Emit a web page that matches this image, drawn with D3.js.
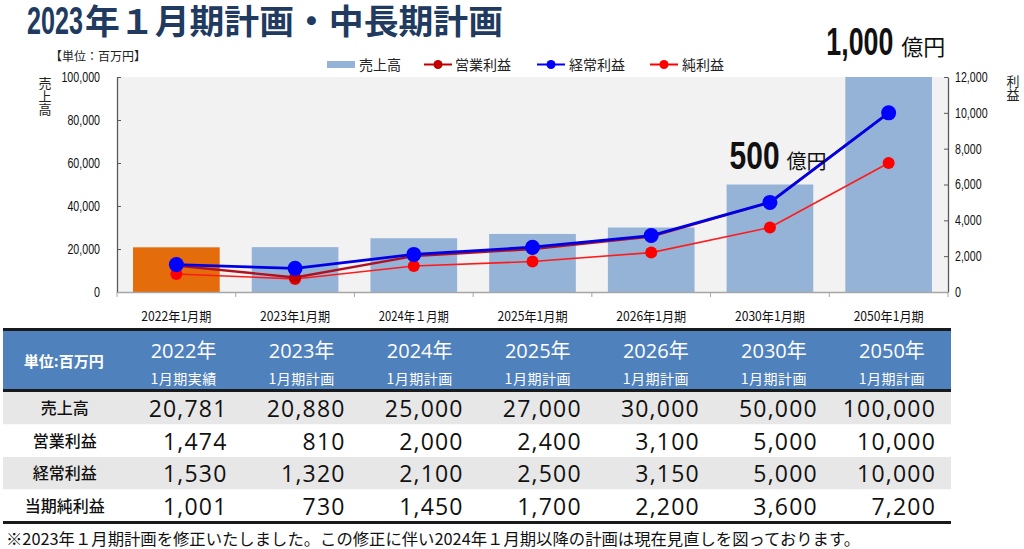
<!DOCTYPE html>
<html><head><meta charset="utf-8">
<script src="https://cdn.jsdelivr.net/npm/d3@7"></script>
<style>body{margin:0;background:#fff}svg{display:block}</style>
</head><body><svg id="c" width="1024" height="549"></svg>
<script>
const categories = ["2022年1月期","2023年1月期","2024年１月期","2025年1月期","2026年1月期","2030年1月期","2050年1月期"];
const sales = [20781, 20880, 25000, 27000, 30000, 50000, 100000];
const opProfit = [1474, 810, 2000, 2400, 3100, 5000, 10000];
const ordProfit = [1530, 1320, 2100, 2500, 3150, 5000, 10000];
const netProfit = [1001, 730, 1450, 1700, 2200, 3600, 7200];
const leftTicks = [0, 20000, 40000, 60000, 80000, 100000];
const rightTicks = [0, 2000, 4000, 6000, 8000, 10000, 12000];
const tableYears = ["2022年","2023年","2024年","2025年","2026年","2030年","2050年"];
const tableSubs = ["1月期実績","1月期計画","1月期計画","1月期計画","1月期計画","1月期計画","1月期計画"];
const rowLabels = ["売上高","営業利益","経常利益","当期純利益"];
const tableRows = [sales, opProfit, ordProfit, netProfit];
const legendItems = ["売上高","営業利益","経常利益","純利益"];
const annotations = [{i:5, num:"500", unit:"億円"}, {i:6, num:"1,000", unit:"億円"}];

const svg = d3.select("#c");
const JP = "'Noto Sans CJK JP','Noto Sans',sans-serif";
const SANS = "'Liberation Sans','Noto Sans',sans-serif";
const fmt = d3.format(",");
const narrowLen = s => s.replace(/[^0-9]/g,"").length*6 + (s.match(/,/g)||[]).length*2.6;

// title
const title = svg.append("text").attr("x",27).attr("y",34).attr("font-weight",700).attr("fill","#203a60");
title.append("tspan").attr("font-family",SANS).attr("font-size",38)
  .attr("textLength",56).attr("lengthAdjust","spacingAndGlyphs").text("2023");
title.append("tspan").attr("x",85).attr("font-family",JP).attr("font-size",34)
  .attr("textLength",418).attr("lengthAdjust","spacingAndGlyphs").text("年１月期計画・中長期計画");
svg.append("text").attr("x",50).attr("y",61).attr("font-family",JP).attr("font-size",12).attr("fill","#222")
  .text("【単位：百万円】");

// scales
const L = 117, R = 948, T = 77, B = 292;
const x = d3.scaleBand().domain(categories).range([L,R]).paddingInner(0.27).paddingOuter(0.135);
const yL = d3.scaleLinear().domain([0,100000]).range([B,T]);
const yR = d3.scaleLinear().domain([0,12000]).range([B,T]);

svg.append("rect").attr("x",L).attr("y",T).attr("width",R-L).attr("height",B-T).attr("fill","#f2f2f2");

// bars
svg.append("g").selectAll("rect").data(sales).join("rect")
  .attr("x",(d,i)=>x(categories[i])).attr("width",x.bandwidth())
  .attr("y",d=>yL(d)).attr("height",d=>B-yL(d))
  .attr("fill",(d,i)=>i===0?"#e46c0a":"#95b3d7");

// axes
const gl = svg.append("g").attr("transform",`translate(${L},0)`)
  .call(d3.axisLeft(yL).tickValues(leftTicks).tickFormat(fmt).tickSizeInner(-4).tickSizeOuter(0).tickPadding(17));
const gr = svg.append("g").attr("transform",`translate(${R},0)`)
  .call(d3.axisRight(yR).tickValues(rightTicks).tickFormat(fmt).tickSizeInner(-4).tickSizeOuter(0).tickPadding(7));
[gl,gr].forEach(g=>{
  g.select(".domain").attr("stroke","#595959").attr("stroke-width",1.3);
  g.selectAll(".tick line").attr("stroke","#595959");
  g.selectAll(".tick text").attr("font-family",SANS).attr("font-size",14).attr("fill","#111")
    .attr("textLength",function(){return narrowLen(this.textContent);}).attr("lengthAdjust","spacingAndGlyphs");
});
const gx = svg.append("g").attr("transform",`translate(0,${B})`)
  .call(d3.axisBottom(x).tickSize(0).tickPadding(20));
gx.select(".domain").attr("stroke","#a6a6a6").attr("stroke-width",1.3);
gx.selectAll(".tick text").attr("font-family",JP).attr("font-size",13).attr("fill","#111")
  .attr("textLength",70).attr("lengthAdjust","spacingAndGlyphs");
gx.selectAll(".bnd").data(d3.range(categories.length+1)).join("line")
  .attr("x1",i=>L+i*x.step()).attr("x2",i=>L+i*x.step()).attr("y1",0).attr("y2",5)
  .attr("stroke","#a6a6a6");

// axis titles (vertical)
[["売上高",45,77],["利益",1013,75]].forEach(([t,cx,cy])=>{
  svg.append("text").attr("x",cx).attr("y",cy).style("writing-mode","vertical-rl")
    .attr("font-family",JP).attr("font-size",13).attr("fill","#222").text(t);
});

// lines
const series = [
  {vals:netProfit, line:"#ff1a1a", dot:"#ff0000", w:1.6, r:6},
  {vals:opProfit, line:"#b01020", dot:"#c00000", w:2.4, r:6},
  {vals:ordProfit, line:"#0000e6", dot:"#0000ff", w:2.8, r:7.5}
];
const cx = (d,i)=>x(categories[i])+x.bandwidth()/2;
series.forEach(s=>{
  svg.append("path").datum(s.vals).attr("fill","none").attr("stroke",s.line).attr("stroke-width",s.w)
    .attr("d",d3.line().x(cx).y(d=>yR(d)));
  svg.append("g").selectAll("circle").data(s.vals).join("circle")
    .attr("cx",cx).attr("cy",d=>yR(d)).attr("r",s.r).attr("fill",s.dot);
});

// legend
const lg = svg.append("g");
lg.append("rect").attr("x",327).attr("y",61).attr("width",28).attr("height",7).attr("fill","#95b3d7");
lg.append("text").attr("x",359).attr("y",70).text(legendItems[0]);
const legLines = [{x:424,c:"#c00000",t:legendItems[1],tx:455},{x:537,c:"#0000ff",t:legendItems[2],tx:569},{x:650,c:"#ff0000",t:legendItems[3],tx:682}];
legLines.forEach(o=>{
  lg.append("line").attr("x1",o.x).attr("x2",o.x+28).attr("y1",64.5).attr("y2",64.5).attr("stroke",o.c).attr("stroke-width",2);
  lg.append("circle").attr("cx",o.x+14).attr("cy",64.5).attr("r",4.5).attr("fill",o.c);
  lg.append("text").attr("x",o.tx).attr("y",70).text(o.t);
});
lg.selectAll("text").attr("font-family",JP).attr("font-size",14).attr("fill","#222");

// annotations
annotations.forEach(a=>{
  const bx = x(categories[a.i]);
  const big = a.i===5;
  const ax = big ? bx+3 : bx-19;
  const ay = big ? yL(sales[a.i])-16 : yL(sales[a.i])-22;
  const t = svg.append("text").attr("x",ax).attr("y",ay).attr("fill","#111");
  t.append("tspan").attr("font-family",SANS).attr("font-weight",700).attr("font-size",38)
    .attr("textLength",big?50:67).attr("lengthAdjust","spacingAndGlyphs").text(a.num);
  t.append("tspan").attr("x",ax+(big?57:75)).attr("font-family",JP).attr("font-size",big?20:22).text(a.unit);
});

// table
const TL = 3, TR = 951, labelW = 121.5;
const tx = d3.scaleBand().domain(categories).range([TL+labelW, TR]);
const tb = svg.append("g");
tb.append("rect").attr("x",TL).attr("y",330).attr("width",TR-TL).attr("height",60).attr("fill","#4f81bd");
const rowY = d3.scaleBand().domain(rowLabels).range([392,522]);
tb.selectAll(".rowbg").data(rowLabels).join("rect")
  .attr("x",TL).attr("width",TR-TL).attr("y",d=>rowY(d)).attr("height",rowY.bandwidth())
  .attr("fill",(d,i)=>i%2===0?"#e7e7e7":"#ffffff");
[329.5,390.5,522.5].forEach(yy=>tb.append("line").attr("x1",TL).attr("x2",TR).attr("y1",yy).attr("y2",yy)
  .attr("stroke","#1a1a1a").attr("stroke-width",3));
tb.append("text").attr("x",TL+labelW/2).attr("y",367).attr("text-anchor","middle").attr("font-family",JP)
  .attr("font-weight",700).attr("font-size",15).attr("fill","#fff").text("単位:百万円");
tb.selectAll(".yr").data(tableYears).join("text")
  .attr("x",(d,i)=>tx(categories[i])+tx.bandwidth()/2).attr("y",358).attr("text-anchor","middle")
  .attr("font-family","'Open Sans','Noto Sans CJK JP',sans-serif").attr("font-size",20).attr("fill","#fff").text(d=>d);
tb.selectAll(".sub").data(tableSubs).join("text")
  .attr("x",(d,i)=>tx(categories[i])+tx.bandwidth()/2).attr("y",384).attr("text-anchor","middle")
  .attr("font-family",JP).attr("font-size",14).attr("letter-spacing",0.5).attr("fill","#fff").text(d=>d);
tb.selectAll(".rl").data(rowLabels).join("text")
  .attr("x",TL+labelW/2+1).attr("y",d=>rowY(d)+rowY.bandwidth()/2+6).attr("text-anchor","middle")
  .attr("font-family",JP).attr("font-weight",500).attr("font-size",16).attr("fill","#111").text(d=>d);
tableRows.forEach((vals,r)=>{
  tb.append("g").selectAll("text").data(vals).join("text")
    .attr("x",(d,i)=>tx(categories[i])+tx.bandwidth()-15).attr("y",rowY(rowLabels[r])+rowY.bandwidth()/2+9)
    .attr("text-anchor","end").attr("font-family","'Open Sans','Liberation Sans',sans-serif").attr("font-size",23)
    .attr("letter-spacing",1.2).attr("fill","#111").text(d=>fmt(d));
});

// footnote
svg.append("text").attr("x",6).attr("y",545).attr("font-family",JP).attr("font-size",16).attr("fill","#111")
  .attr("textLength",854).attr("lengthAdjust","spacingAndGlyphs")
  .text("※2023年１月期計画を修正いたしました。この修正に伴い2024年１月期以降の計画は現在見直しを図っております。");
</script></body></html>
